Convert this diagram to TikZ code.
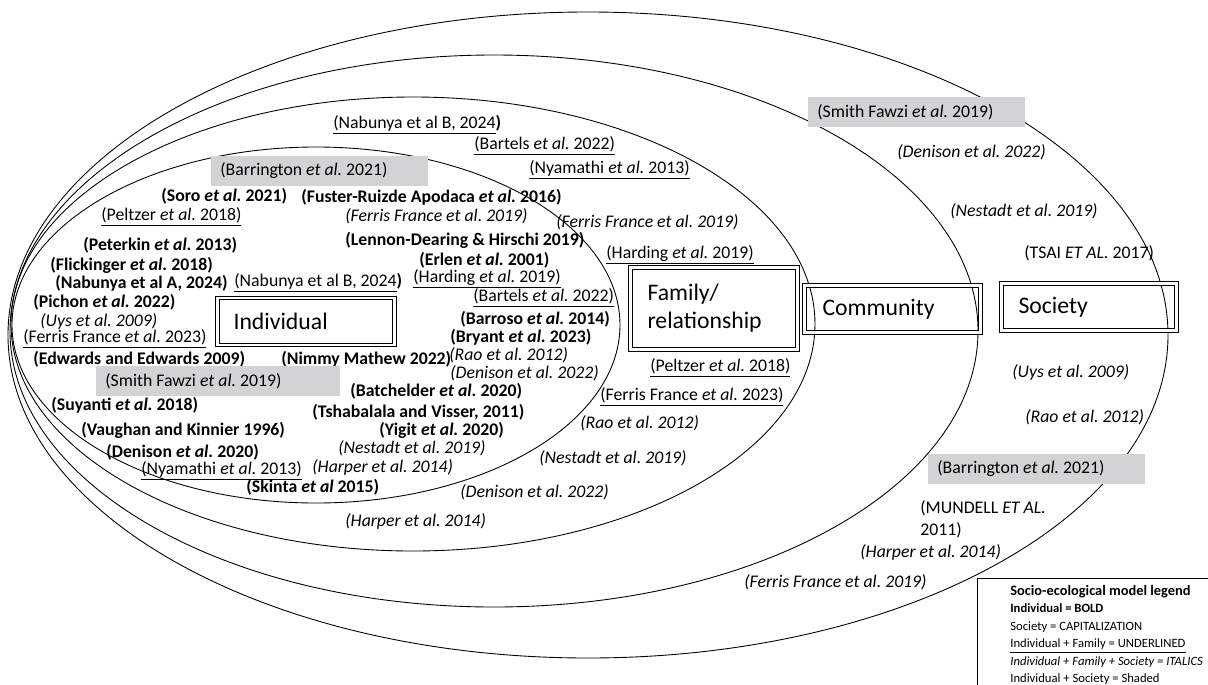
\documentclass[tikz,border=0pt]{standalone}
\usepackage{fontspec}
\setmainfont{Carlito}
\usetikzlibrary{positioning}
\definecolor{shadegray}{RGB}{209,211,212}
\newcommand{\etal}{\textit{et al.}}
\frenchspacing

\begin{document}
\begin{tikzpicture}[x=0.02cm, y=-0.02cm,
  every node/.style={anchor=west, inner sep=0pt, font=\fontsize{10.1}{12}\selectfont},
  bld/.style={font=\fontsize{10.1}{12}\selectfont\bfseries},
  itl/.style={font=\fontsize{10.1}{12}\selectfont\itshape},
  shd/.style={fill=shadegray, minimum height=0.6cm, text width=3.98cm, inner xsep=0.18cm, align=flush left},
  sembox/.style={draw, double, double distance=1.2pt, line width=0.6pt, minimum height=0.94cm,
    inner xsep=0.34cm, text width=2.84cm, align=flush left, font=\fontsize{13.5}{16}\selectfont},
  ring/.style={line width=0.5pt}]
  \useasboundingbox (0,0) rectangle (1208,684);

  % the four levels of the model
  \draw[ring] (588,335) ellipse [x radius=580, y radius=323];
  \draw[ring] (494,331) ellipse [x radius=484, y radius=276];
  \draw[ring] (413,324) ellipse [x radius=402, y radius=227];
  \draw[ring] (316,325) ellipse [x radius=304, y radius=178];

  \node[sembox, inner xsep=0.32cm, text width=2.9cm] (indiv) at (217,321.5) {Individual};
  \node[sembox, minimum height=1.64cm, text width=2.66cm] (family) at (630,308.5) {Family/\\relationship};
  \node[sembox, inner xsep=0.36cm, text width=2.8cm] (comm) at (804,309) {Community};
  \node[sembox, text width=2.82cm] (soc) at (1001,307) {Society};

  % individual
  \node[shd] (i_barr) at (211,171) {(Barrington \etal{} 2021)};
  \node[bld] (i_soro) at (161,196) {(Soro \etal{} 2021)};
  \node[bld] (i_fuster) at (301,197) {(Fuster-Ruizde Apodaca \etal{} 2016)};
  \node (i_peltzer) at (101,217) {\underline{(Peltzer \etal{} 2018)}};
  \node[itl] (i_ferris19) at (345,216) {(Ferris France et al. 2019)};
  \node[bld] (i_peterkin) at (83,245) {(Peterkin \etal{} 2013)};
  \node[bld] (i_lennon) at (345,240) {(Lennon-Dearing \& Hirschi 2019)};
  \node[bld] (i_flick) at (50,265) {(Flickinger \etal{} 2018)};
  \node[bld] (i_erlen) at (419,260) {(Erlen \etal{} 2001)};
  \node[bld] (i_nabA) at (55,283) {(Nabunya et al A, 2024)};
  \node (i_nabB) at (234,283) {\underline{(Nabunya et al B, 2024}\textbf{)}};
  \node (i_harding) at (413,279) {\underline{(Harding \etal{} 2019)}};
  \node[bld] (i_pichon) at (33,302) {(Pichon \etal{} 2022)};
  \node (i_bartels) at (473,298) {\underline{(Bartels \etal{} 2022)}};
  \node[bld] (i_barroso) at (460,319) {(Barroso \etal{} 2014)};
  \node[itl] (i_uys) at (40,321) {(Uys et al. 2009)};
  \node[bld] (i_bryant) at (450,337) {(Bryant \etal{} 2023)};
  \node (i_ferris23) at (23,339) {\underline{(Ferris France \etal{} 2023)}};
  \node[bld] (i_edwards) at (33,359) {(Edwards and Edwards 2009)};
  \node[bld] (i_nimmy) at (281,359) {(Nimmy Mathew 2022)};
  \node[itl] (i_rao) at (449,355) {(Rao et al. 2012)};
  \node[shd, text width=4.52cm] (i_smith) at (96,381) {(Smith Fawzi \etal{} 2019)};
  \node[itl] (i_denison22) at (450,373) {(Denison et al. 2022)};
  \node[bld] (i_batch) at (350,391) {(Batchelder \etal{} 2020)};
  \node[bld] (i_suyanti) at (51,405) {(Suyanti \etal{} 2018)};
  \node[bld] (i_tshab) at (312,412) {(Tshabalala and Visser, 2011)};
  \node[bld] (i_vaughan) at (81,430) {(Vaughan and Kinnier 1996)};
  \node[bld] (i_yigit) at (379,430) {(Yigit \etal{} 2020)};
  \node[bld] (i_denison20) at (106,452) {(Denison \etal{} 2020)};
  \node[itl] (i_nestadt) at (338,448) {(Nestadt et al. 2019)};
  \node (i_nyam) at (141,471) {\underline{(Nyamathi \etal{} 2013)}};
  \node[itl] (i_harper) at (312,467) {(Harper et al. 2014)};
  \node[bld] (i_skinta) at (246,487) {(Skinta \textit{et al} 2015)};

  % family / relationship
  \node (f_nabB) at (333,125) {\underline{(Nabunya et al B, 2024}\textbf{)}};
  \node (f_bartels) at (474,146) {\underline{(Bartels \etal{} 2022)}};
  \node (f_nyam) at (529,170) {\underline{(Nyamathi \etal{} 2013)}};
  \node[itl] (f_ferris19) at (556,222) {(Ferris France et al. 2019)};
  \node (f_harding) at (606,255) {\underline{(Harding \etal{} 2019)}};
  \node (f_peltzer) at (650,368) {\underline{(Peltzer \etal{} 2018)}};
  \node (f_ferris23) at (600,397) {\underline{(Ferris France \etal{} 2023)}};
  \node[itl] (f_rao) at (580,423) {(Rao et al. 2012)};
  \node[itl] (f_nestadt) at (539,458) {(Nestadt et al. 2019)};
  \node[itl] (f_denison) at (460,492) {(Denison et al. 2022)};
  \node[itl] (f_harper) at (345,521) {(Harper et al. 2014)};

  % community
  \node[shd] (c_smith) at (808,112) {(Smith Fawzi \etal{} 2019)};
  \node[itl] (c_denison) at (897,152) {(Denison et al. 2022)};
  \node[itl] (c_nestadt) at (950,211) {(Nestadt et al. 2019)};
  \node[itl] (c_ferris) at (744,582) {(Ferris France et al. 2019)};

  % society
  \node (s_tsai) at (1024,253) {(TSAI \textit{ET AL.} 2017)};
  \node[itl] (s_uys) at (1012,372) {(Uys et al. 2009)};
  \node[itl] (s_rao) at (1025,417) {(Rao et al. 2012)};
  \node[shd] (s_barr) at (928,469) {(Barrington \etal{} 2021)};
  \node[align=flush left, font=\fontsize{10.1}{12.5}\selectfont] (s_mundell) at (920,519) {(MUNDELL \textit{ET AL.}\\2011)};
  \node[itl] (s_harper) at (860,552) {(Harper et al. 2014)};

  % legend
  \draw[line width=0.5pt] (977,690) |- (1215,578);
  \node[anchor=north west, align=flush left, font=\fontsize{7.2}{9.9}\selectfont] (legend) at (1010,585)
    {{\fontsize{8.2}{9.9}\selectfont\textbf{Socio-ecological model legend}}\\
     \textbf{Individual = BOLD}\\
     Society = CAPITALIZATION\\
     \underline{Individual + Family = UNDERLINED}\\
     \textit{Individual + Family + Society = ITALICS}\\
     Individual + Society = Shaded};
\end{tikzpicture}
\end{document}
